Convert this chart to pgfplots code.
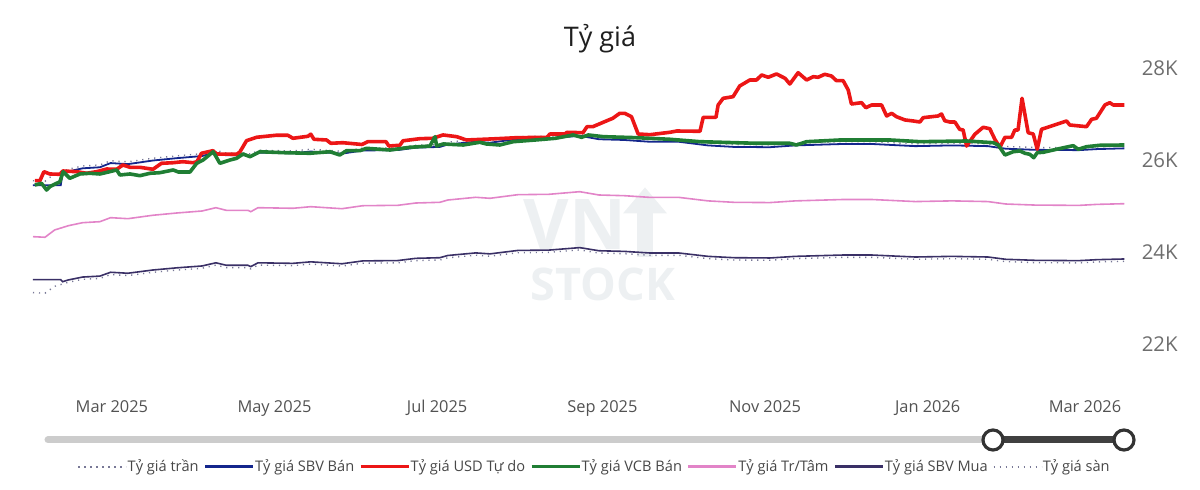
\documentclass[border=0pt]{standalone}
\usepackage{fontspec}
\setmainfont{Open Sans}
\usepackage{pgfplots}
\pgfplotsset{compat=1.18}

\definecolor{cTran}{RGB}{120,120,150}
\definecolor{cSBVBan}{RGB}{20,38,140}
\definecolor{cTuDo}{RGB}{236,22,22}
\definecolor{cVCB}{RGB}{32,126,52}
\definecolor{cTrTam}{RGB}{226,132,200}
\definecolor{cSBVMua}{RGB}{58,48,102}
\definecolor{cMark}{RGB}{237,240,242}
\definecolor{cTick}{RGB}{110,110,110}

\pgfplotsset{
  thickleg/.style={legend image code/.code={\draw[##1, line width=1.4pt] (0pt,0pt) -- (24pt,0pt);}},
  thinleg/.style={legend image code/.code={\draw[##1] (0pt,0pt) -- (24pt,0pt);}},
}

% x = days since 1 Mar 2025, y = VND per USD
\pgfplotstableread{
d v
-29.6 25550
-25.1 25536
-21.5 25702
-18.5 25757
-16.3 25801
-11.0 25869
-4.5 25892
-0.5 25983
6.0 25960
15.3 26038
24.4 26090
33.8 26136
39.0 26211
42.9 26151
51.0 26151
52.1 26120
54.8 26211
67.9 26198
74.6 26234
86.3 26188
94.1 26256
107.3 26266
114.0 26318
123.0 26334
126.0 26387
136.5 26448
141.8 26425
152.3 26508
163.9 26517
175.5 26577
182.7 26501
192.2 26485
201.8 26446
212.7 26446
223.6 26367
233.3 26334
246.8 26328
256.4 26367
274.2 26398
285.1 26398
301.4 26351
315.1 26367
328.6 26351
335.3 26295
346.2 26271
362.7 26264
369.5 26287
379.8 26303
}\tran

\pgfplotstableread{
d v
-29.6 25450
-19.2 25450
-18.5 25707
-16.3 25751
-11.0 25819
-4.5 25842
-0.5 25933
6.0 25910
15.3 25988
24.4 26040
33.8 26086
39.0 26161
42.9 26101
51.0 26101
52.1 26070
54.8 26161
67.9 26148
74.6 26184
86.3 26138
94.1 26206
107.3 26216
114.0 26268
123.0 26284
126.0 26337
136.5 26398
141.8 26375
152.3 26458
163.9 26467
175.5 26527
182.7 26451
192.2 26435
201.8 26396
212.7 26396
223.6 26317
233.3 26284
246.8 26278
256.4 26317
274.2 26348
285.1 26348
301.4 26301
315.1 26317
328.6 26301
335.3 26245
346.2 26221
362.7 26214
369.5 26237
379.8 26253
}\sbvban

\pgfplotstableread{
d v
-28.9 25550
-27.0 25550
-25.5 25746
-23.3 25696
-19.5 25689
-18.4 25761
-13.2 25746
-9.5 25711
-5.7 25746
-2.0 25804
1.8 25798
4.1 25891
6.8 25841
10.5 25841
15.4 25798
18.6 25928
22.9 25941
26.6 25963
30.4 25941
31.9 25963
33.6 26146
37.9 26202
39.3 26130
46.8 26124
48.0 26174
50.5 26420
54.3 26494
61.8 26539
66.0 26537
67.9 26472
73.5 26515
74.6 26561
75.8 26450
80.5 26435
82.1 26363
86.6 26376
93.8 26337
96.0 26398
102.8 26398
103.9 26304
108.0 26320
109.2 26417
115.5 26463
120.4 26472
124.2 26544
129.3 26507
133.0 26435
139.2 26450
144.4 26463
151.9 26485
163.2 26493
164.3 26565
169.9 26565
170.7 26602
176.7 26593
178.2 26724
180.4 26724
185.7 26854
187.9 26907
190.5 27015
192.4 27015
194.9 26941
197.4 26565
201.8 26550
209.3 26602
211.9 26630
220.6 26624
221.8 26928
226.6 26928
227.4 27196
229.3 27341
233.0 27376
235.5 27609
239.3 27739
241.8 27739
243.7 27848
246.2 27798
249.3 27870
252.5 27776
254.3 27652
257.4 27898
260.6 27739
263.1 27811
264.9 27798
267.4 27863
269.9 27826
271.8 27724
274.3 27724
276.2 27522
277.4 27217
281.2 27246
282.8 27137
285.0 27196
288.7 27196
290.6 26957
292.5 27015
294.3 26941
297.5 26870
300.6 26848
303.1 26826
304.3 26920
309.9 26957
311.2 27000
312.4 26854
314.3 26826
316.2 26826
318.0 26667
319.3 26652
320.6 26304
323.7 26559
326.8 26711
329.3 26680
331.2 26450
333.1 26276
335.0 26493
337.5 26493
338.7 26652
339.9 26652
341.4 27341
343.7 26593
345.6 26565
347.1 26233
348.7 26667
358.1 26848
359.3 26761
361.8 26746
365.6 26724
367.5 26885
369.3 26907
372.5 27196
374.3 27246
375.6 27196
379.8 27196
}\tudo

\pgfplotstableread{
d v
-28.9 25457
-26.4 25493
-24.5 25348
-23.3 25420
-19.5 25528
-18.3 25746
-15.8 25602
-12.0 25696
-8.3 25711
-4.5 25696
-0.8 25746
1.8 25783
3.0 25674
6.8 25696
10.5 25659
14.3 25711
18.0 25724
23.0 25783
24.9 25739
29.3 25739
31.8 25928
34.2 26000
38.0 26180
40.5 25928
44.3 26000
46.8 26037
49.2 26130
51.8 26072
55.5 26180
64.3 26159
74.3 26146
81.8 26180
85.5 26109
88.0 26202
93.0 26202
95.5 26254
104.3 26217
111.8 26276
119.3 26304
121.2 26507
121.8 26304
124.3 26348
131.8 26326
138.0 26385
140.5 26348
145.5 26326
150.5 26398
158.9 26435
166.4 26472
173.0 26544
176.2 26493
178.7 26544
184.3 26507
196.8 26485
209.3 26450
220.6 26398
241.8 26363
254.3 26363
256.8 26326
260.6 26398
273.1 26435
291.8 26435
303.1 26398
320.6 26413
330.6 26376
332.5 26326
335.0 26109
338.1 26180
340.6 26196
342.5 26146
344.3 26124
345.8 26050
347.1 26159
349.3 26167
354.3 26233
360.6 26311
362.5 26233
365.6 26289
370.6 26320
379.8 26326
}\vcb

\pgfplotstableread{
d v
-29.6 24333
-25.1 24320
-21.5 24478
-16.3 24572
-11.0 24637
-4.5 24659
-0.5 24746
6.0 24724
15.3 24798
24.4 24848
33.8 24891
39.0 24963
42.9 24906
51.0 24906
52.1 24876
54.8 24963
67.9 24950
74.6 24985
86.3 24941
94.1 25006
107.3 25015
114.0 25065
123.0 25080
126.0 25130
136.5 25189
141.8 25167
152.3 25246
163.9 25254
175.5 25311
182.7 25239
192.2 25224
201.8 25187
212.7 25187
223.6 25111
233.3 25080
246.8 25074
256.4 25111
274.2 25141
285.1 25141
301.4 25096
315.1 25111
328.6 25096
335.3 25043
346.2 25020
362.7 25013
369.5 25035
379.8 25050
}\trtam

\pgfplotstableread{
d v
-29.6 23400
-19.2 23400
-18.5 23354
-16.3 23393
-11.0 23455
-4.5 23476
-0.5 23559
6.0 23538
15.3 23608
24.4 23656
33.8 23696
39.0 23765
42.9 23711
51.0 23711
52.1 23682
54.8 23765
67.9 23753
74.6 23786
86.3 23744
94.1 23806
107.3 23814
114.0 23862
123.0 23876
126.0 23924
136.5 23980
141.8 23959
152.3 24034
163.9 24041
175.5 24095
182.7 24027
192.2 24013
201.8 23978
212.7 23978
223.6 23905
233.3 23876
246.8 23870
256.4 23905
274.2 23934
285.1 23934
301.4 23891
315.1 23905
328.6 23891
335.3 23841
346.2 23819
362.7 23812
369.5 23833
379.8 23848
}\sbvmua

\pgfplotstableread{
d v
-29.6 23116
-25.1 23104
-21.5 23254
-18.5 23304
-16.3 23343
-11.0 23405
-4.5 23426
-0.5 23509
6.0 23488
15.3 23558
24.4 23606
33.8 23646
39.0 23715
42.9 23661
51.0 23661
52.1 23632
54.8 23715
67.9 23703
74.6 23736
86.3 23694
94.1 23756
107.3 23764
114.0 23812
123.0 23826
126.0 23874
136.5 23930
141.8 23909
152.3 23984
163.9 23991
175.5 24045
182.7 23977
192.2 23963
201.8 23928
212.7 23928
223.6 23855
233.3 23826
246.8 23820
256.4 23855
274.2 23884
285.1 23884
301.4 23841
315.1 23855
328.6 23841
335.3 23791
346.2 23769
362.7 23762
369.5 23783
379.8 23798
}\san

\begin{document}
\begin{tikzpicture}
\useasboundingbox (-16.5pt,-52.3pt) rectangle (583.5pt,192.7pt);

% faint logo behind the lines
\node[text=cMark, inner sep=0pt, font=\fontsize{35}{35}\selectfont\bfseries] at (271pt,80.5pt) {VN};
\node[text=cMark, inner sep=0pt, font=\fontsize{22.5}{22.5}\selectfont\bfseries] at (285pt,50.5pt) {STOCK};
\fill[cMark] (302pt,64pt) rectangle (310pt,88pt);
\fill[cMark] (295pt,86pt) -- (306pt,99pt) -- (317pt,86pt) -- cycle;

% title
\node[text=black!88, font=\fontsize{13.5}{16}\selectfont] at (283.5pt,173.5pt) {Tỷ giá};

\begin{axis}[
  at={(0pt,0pt)}, anchor=south west,
  scale only axis,
  width=545.7pt, height=165.6pt,
  xmin=-29.6, xmax=379.8,
  ymin=21100, ymax=28300,
  axis line style={draw=none},
  tick style={draw=none},
  scaled y ticks=false,
  xtick={0,61,122,184,245,306,365},
  xticklabels={Mar 2025,May 2025,Jul 2025,Sep 2025,Nov 2025,Jan 2026,Mar 2026},
  ytick={22000,24000,26000,28000},
  yticklabels={22K,24K,26K,28K},
  yticklabel pos=right,
  xticklabel style={font=\fontsize{8.2}{10}\selectfont, text=black!68, anchor=base, inner sep=0pt, yshift=-13.8pt},
  yticklabel style={font=\fontsize{10.2}{12}\selectfont, text=cTick, anchor=west, inner sep=0pt, xshift=8.5pt},
  legend columns=7,
  legend cell align=left,
  legend style={at={(0.514,-0.246)}, anchor=center, draw=none, fill=none,
    font=\fontsize{7.3}{9}\selectfont, text=black!72,
    nodes={inner sep=0.3pt},
    /tikz/every even column/.append style={column sep=2.2pt}},
  thickleg,
]
\addplot[cTran, line width=0.7pt, dash pattern=on 0.6pt off 2.4pt, thinleg] table[x=d,y=v] {\tran};
\addlegendentry{Tỷ giá trần}
\addplot[cSBVBan, line width=0.9pt] table[x=d,y=v] {\sbvban};
\addlegendentry{Tỷ giá SBV Bán}
\addplot[cTuDo, line width=1.8pt, line join=round] table[x=d,y=v] {\tudo};
\addlegendentry{Tỷ giá USD Tự do}
\addplot[cVCB, line width=1.8pt, line join=round] table[x=d,y=v] {\vcb};
\addlegendentry{Tỷ giá VCB Bán}
\addplot[cTrTam, line width=0.8pt] table[x=d,y=v] {\trtam};
\addlegendentry{Tỷ giá Tr/Tâm}
\addplot[cSBVMua, line width=0.8pt] table[x=d,y=v] {\sbvmua};
\addlegendentry{Tỷ giá SBV Mua}
\addplot[cTran, line width=0.7pt, dash pattern=on 0.6pt off 2.4pt, thinleg] table[x=d,y=v] {\san};
\addlegendentry{Tỷ giá sàn}
\end{axis}

% range slider under the axis
\draw[line width=3.5pt, line cap=round, black!20] (7.5pt,-27.3pt) -- (480pt,-27.3pt);
\draw[line width=3.5pt, black!75] (480pt,-27.3pt) -- (545.5pt,-27.3pt);
\draw[line width=1.6pt, black!80, fill=white] (480pt,-27.3pt) circle (5pt);
\draw[line width=1.6pt, black!80, fill=white] (545.5pt,-27.3pt) circle (5pt);
\end{tikzpicture}
\end{document}
